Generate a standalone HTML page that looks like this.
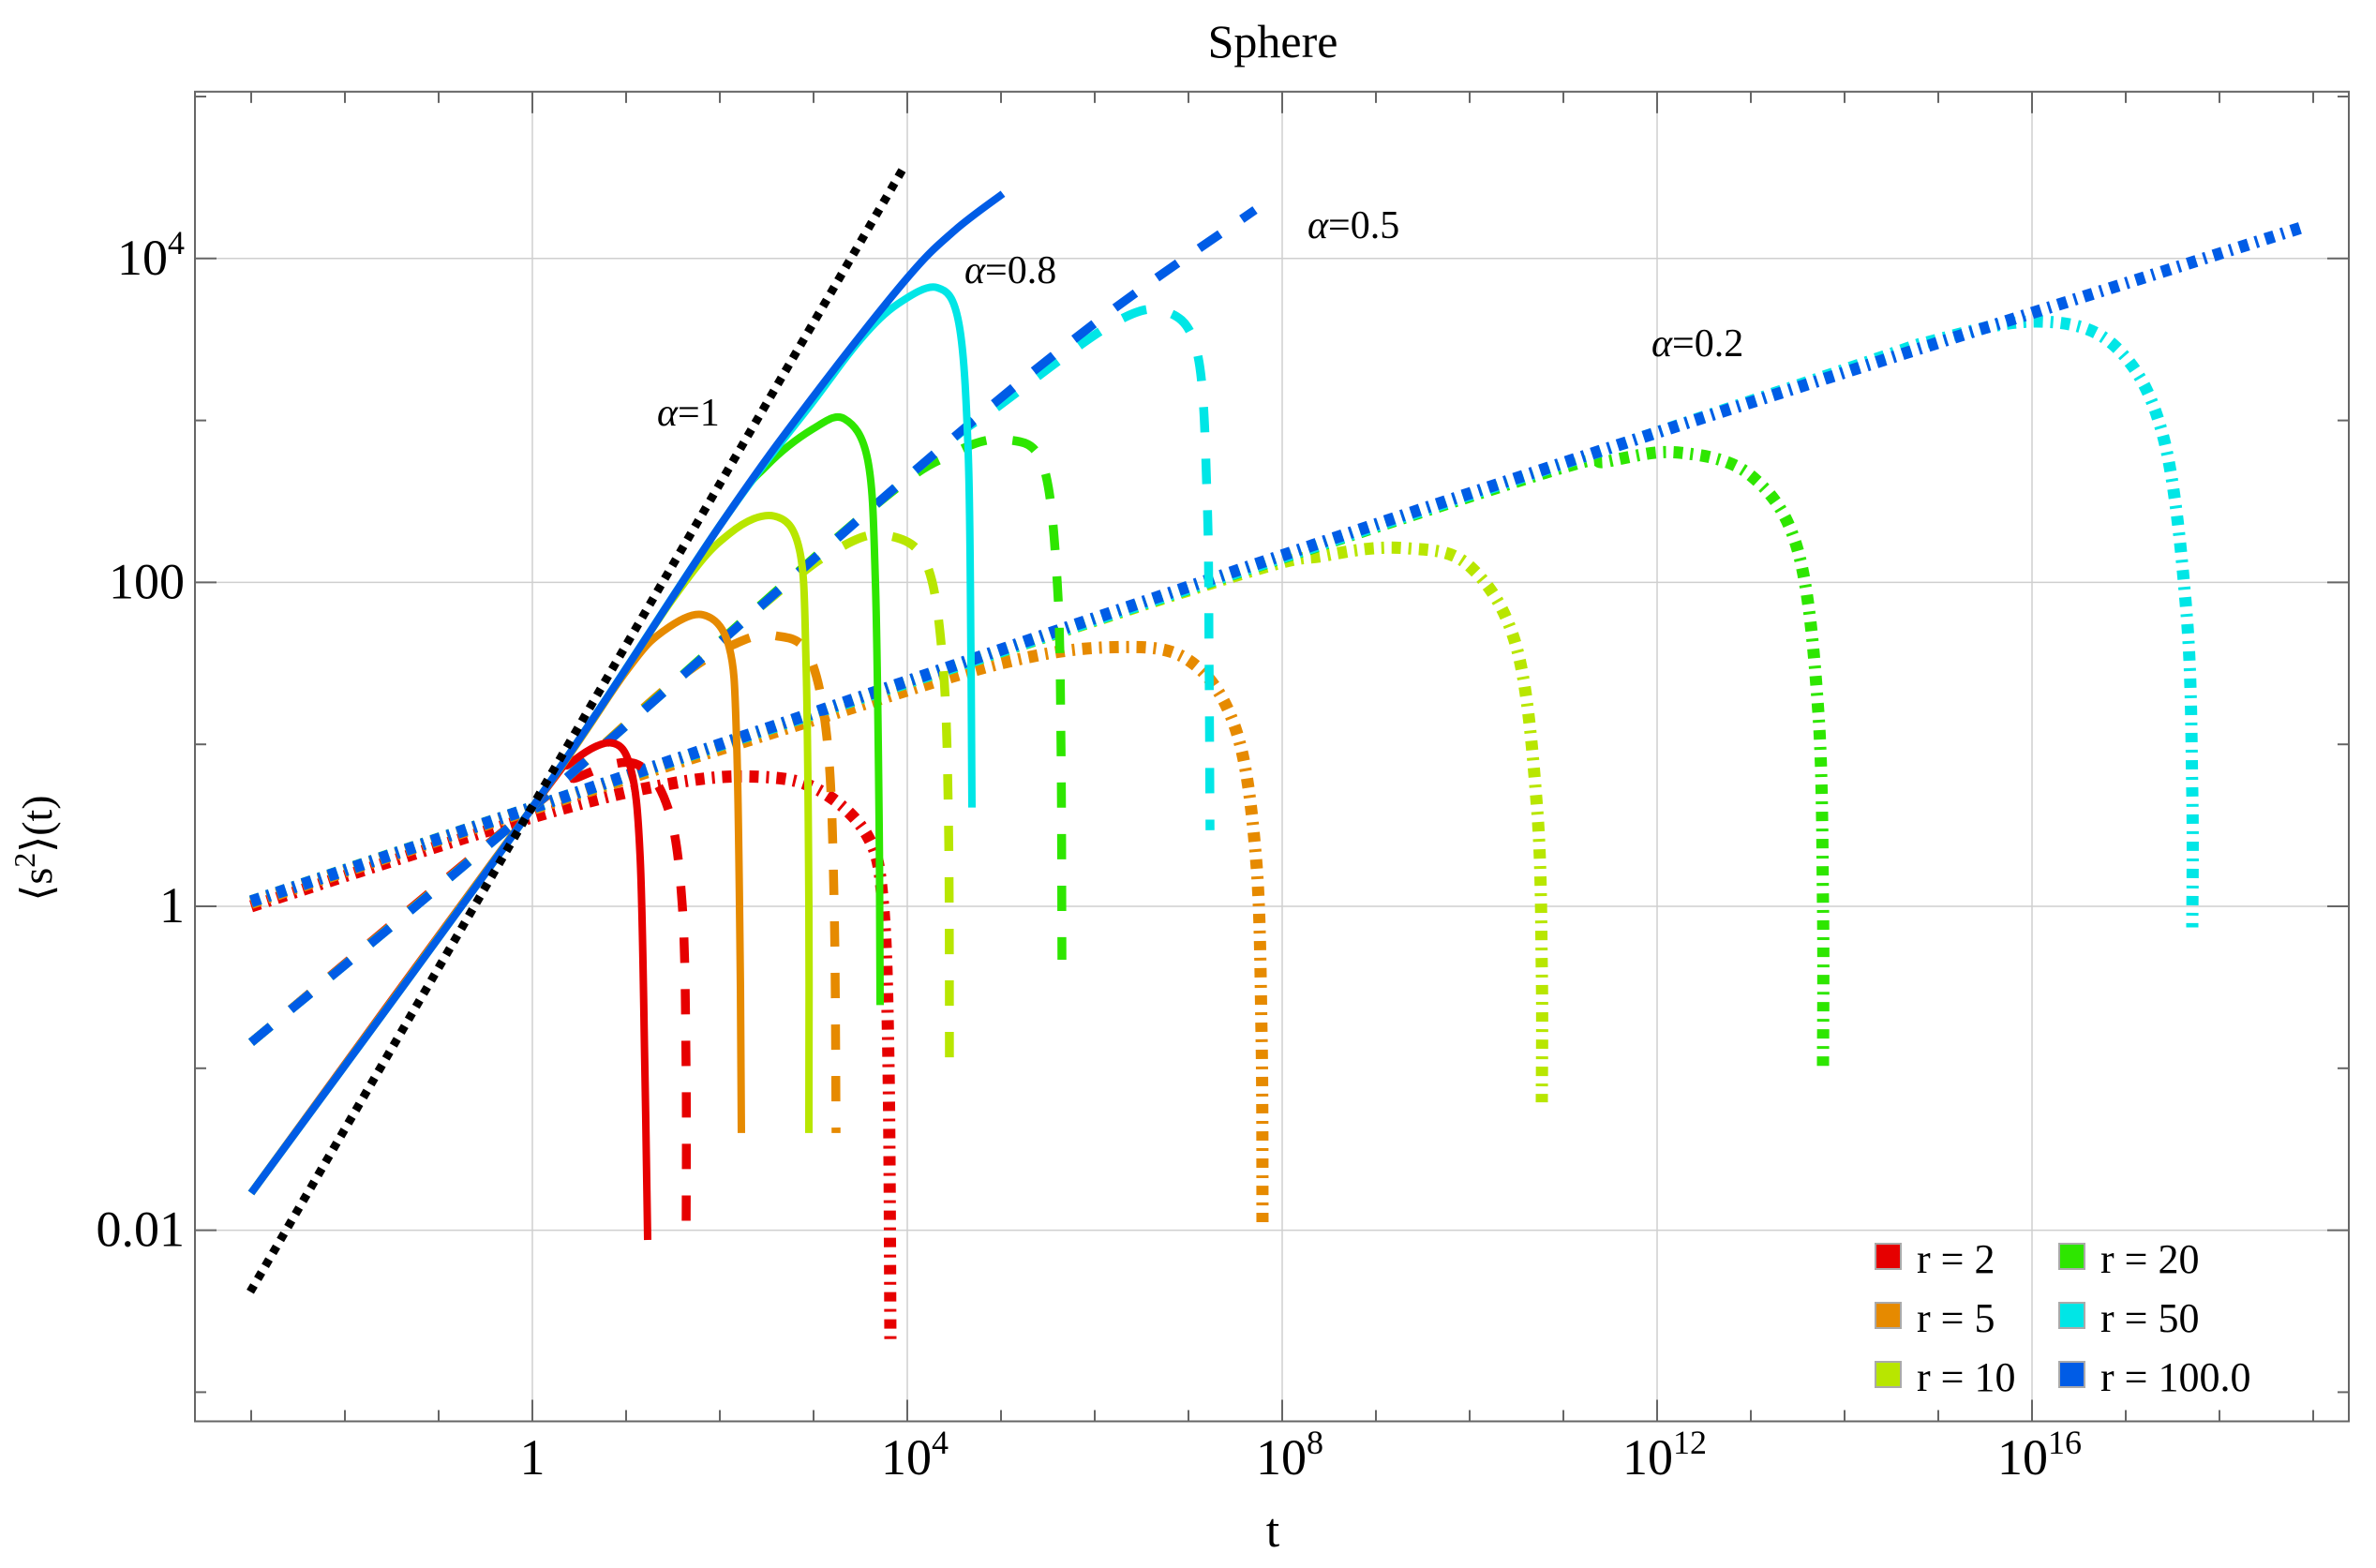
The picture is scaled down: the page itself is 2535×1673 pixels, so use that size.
<!DOCTYPE html>
<html><head><meta charset="utf-8"><style>
html,body{margin:0;padding:0;background:#fff;}
svg{display:block;}
svg text{font-family:"Liberation Serif","DejaVu Serif",serif;}
</style></head><body>
<svg id="chart" width="2535" height="1673" viewBox="0 0 2535 1673" xmlns="http://www.w3.org/2000/svg">
<g id="grid"></g>
<g id="series"></g>
<g id="axes"></g>
<text x="1358" y="61" font-size="50" text-anchor="middle" font-family="Liberation Serif, serif">Sphere</text>
<text x="1358" y="1650" font-size="52" text-anchor="middle" font-family="Liberation Serif, serif">t</text>
<text transform="translate(55,905) rotate(-90)" font-size="46" text-anchor="middle" font-family="Liberation Serif, serif">⟨s<tspan dy="-18" font-size="32">2</tspan><tspan dy="18">⟩(t)</tspan></text>
<text x="701" y="454" font-size="42" font-family="Liberation Serif, serif"><tspan font-style="italic">α</tspan>=1</text>
<text x="1029" y="302" font-size="42" font-family="Liberation Serif, serif"><tspan font-style="italic">α</tspan>=0.8</text>
<text x="1395" y="254" font-size="42" font-family="Liberation Serif, serif"><tspan font-style="italic">α</tspan>=0.5</text>
<text x="1762" y="380" font-size="42" font-family="Liberation Serif, serif"><tspan font-style="italic">α</tspan>=0.2</text>
<g id="legend"></g>
</svg>
<script>
// data: [log10 t, log10 <s^2>] points
const xTickDecades = [0, 4, 8, 12, 16];
const xTickLabels = ["1", "10^4", "10^8", "10^12", "10^16"];
const yTickDecades = [-2, 0, 2, 4];
const yTickLabels = ["0.01", "1", "100", "10^4"];
const legendLabels = ["r = 2", "r = 5", "r = 10", "r = 20", "r = 50", "r = 100.0"];
const seriesColors = ["#e60000", "#e68a00", "#b8e600", "#2ee600", "#00e6e6", "#005ce6"];

const alpha1 = [[-3.01,-2.38],[3.96,4.56]];

const a08_r2 = [[-3,-1.77],[0,0.61],[0.4,0.88],[0.83,1.01],[1.05,0.85],[1.15,0.3],[1.2,-1],[1.23,-2.06]];
const a08_r5 = [[-3,-1.77],[0,0.61],[1,1.45],[1.4,1.7],[1.82,1.80],[2.1,1.6],[2.18,1.0],[2.22,-0.5],[2.23,-1.40]];
const a08_r10 = [[-3,-1.77],[0,0.61],[1.5,1.9],[2.1,2.3],[2.58,2.41],[2.85,2.2],[2.92,1.5],[2.95,0],[2.95,-1.40]];
const a08_r20 = [[-3,-1.77],[0,0.61],[2,2.35],[2.5,2.72],[3.0,2.95],[3.33,3.01],[3.58,2.75],[3.66,2.0],[3.7,0.5],[3.71,-0.61]];
const a08_r50 = [[-3,-1.77],[0,0.61],[2,2.35],[3.0,3.12],[3.5,3.5],[3.9,3.72],[4.32,3.82],[4.55,3.6],[4.65,2.8],[4.68,1.5],[4.69,0.61]];
const a08_r100 = [[-3,-1.77],[0,0.61],[2,2.35],[3,3.15],[4,3.88],[4.5,4.17],[5.02,4.40]];

const a05_r2 = [[-3,-0.84],[0,0.61],[0.5,0.8],[1.1,0.88],[1.45,0.6],[1.6,0],[1.64,-1],[1.64,-2.10]];
const a05_r5 = [[-3,-0.84],[0,0.61],[1.5,1.38],[2.2,1.63],[2.6,1.67],[2.95,1.55],[3.15,1.0],[3.22,0],[3.24,-1.40]];
const a05_r10 = [[-3,-0.84],[0,0.61],[2.5,1.88],[3.3,2.22],[3.78,2.29],[4.2,2.12],[4.38,1.5],[4.44,0.5],[4.45,-1.07]];
const a05_r20 = [[-3,-0.84],[0,0.61],[3.5,2.4],[4.5,2.8],[5.08,2.88],[5.45,2.72],[5.6,2.0],[5.64,1],[5.65,-0.33]];
const a05_r50 = [[-3,-0.84],[0,0.61],[4,2.65],[5,3.1],[6.2,3.6],[6.77,3.67],[7.1,3.4],[7.2,2.5],[7.22,1.5],[7.23,0.47]];
const a05_r100 = [[-3,-0.84],[0,0.61],[4,2.65],[6,3.6],[7.71,4.30]];

const a02_r2 = [[-3,0.0],[0,0.55],[1.5,0.76],[2.42,0.80],[3.05,0.72],[3.57,0.44],[3.74,0.02],[3.8,-1],[3.82,-2.68]];
const a02_r5 = [[-3,0.02],[0,0.6],[3,1.15],[5,1.5],[6.21,1.60],[7.0,1.52],[7.5,1.1],[7.72,0.3],[7.78,-0.8],[7.79,-1.98]];
const a02_r10 = [[-3,0.03],[0,0.61],[7,1.95],[8.5,2.17],[9.35,2.21],[10.0,2.1],[10.5,1.6],[10.72,0.6],[10.77,-0.4],[10.77,-1.21]];
const a02_r20 = [[-3,0.03],[0,0.61],[10,2.53],[11.5,2.75],[12.26,2.80],[13.0,2.66],[13.5,2.2],[13.72,1.2],[13.77,0],[13.77,-1.0]];
const a02_r50 = [[-3,0.03],[0,0.61],[13,3.12],[15,3.5],[16.13,3.61],[16.9,3.45],[17.4,2.9],[17.65,1.8],[17.71,0.7],[17.71,-0.13]];
const a02_r100 = [[-3,0.03],[0,0.61],[10,2.55],[18.87,4.19]];

const X = lt => 568 + 100 * lt;
const Y = ly => 967 - 172.8 * ly;
const NS = "http://www.w3.org/2000/svg";
const XMIN = -3.6, XMAX = 19.38, YMIN = -3.18, YMAX = 5.03;

function mk(tag, attrs, parent) {
  const e = document.createElementNS(NS, tag);
  for (const k in attrs) e.setAttribute(k, attrs[k]);
  parent.appendChild(e);
  return e;
}
function pathD(pts) {
  const p = pts.map(q => [X(q[0]), Y(q[1])]);
  let d = "M" + p[0][0].toFixed(1) + "," + p[0][1].toFixed(1);
  for (let i = 0; i < p.length - 1; i++) {
    const p0 = p[i - 1] || p[i], p1 = p[i], p2 = p[i + 1], p3 = p[i + 2] || p[i + 1];
    const t = 6;
    const c1 = [p1[0] + (p2[0] - p0[0]) / t, p1[1] + (p2[1] - p0[1]) / t];
    const c2 = [p2[0] - (p3[0] - p1[0]) / t, p2[1] - (p3[1] - p1[1]) / t];
    d += " C" + c1.map(v => v.toFixed(1)).join(",") + " " + c2.map(v => v.toFixed(1)).join(",") + " " + p2[0].toFixed(1) + "," + p2[1].toFixed(1);
  }
  return d;
}

const grid = document.getElementById("grid");
const axes = document.getElementById("axes");
const series = document.getElementById("series");
const L = X(XMIN), R = X(XMAX), T = Y(YMAX), B = Y(YMIN);

xTickDecades.forEach(v => {
  const g = mk("line", {x1: X(v), x2: X(v), y1: T, y2: B, stroke: "#cfcfcf", "stroke-width": 1.5}, grid);
  
  
});
yTickDecades.forEach(v => {
  const g = mk("line", {x1: L, x2: R, y1: Y(v), y2: Y(v), stroke: "#cfcfcf", "stroke-width": 1.5}, grid);
  
  
});

const frame = mk("rect", {x: L, y: T, width: R - L, height: B - T, fill: "none", stroke: "#666", "stroke-width": 2}, axes);



for (let d = -3; d <= 19; d++) {
  const major = xTickDecades.includes(d);
  const len = major ? 23 : 12;
  const t1 = mk("line", {x1: X(d), x2: X(d), y1: B, y2: B - len, stroke: "#666", "stroke-width": 2}, axes);
  
  
  const t2 = mk("line", {x1: X(d), x2: X(d), y1: T, y2: T + len, stroke: "#666", "stroke-width": 2}, axes);
  
  
}
for (let d = -3; d <= 5; d++) {
  const major = yTickDecades.includes(d);
  const len = major ? 23 : 12;
  const t1 = mk("line", {x1: L, x2: L + len, y1: Y(d), y2: Y(d), stroke: "#666", "stroke-width": 2}, axes);
  
  
  const t2 = mk("line", {x1: R, x2: R - len, y1: Y(d), y2: Y(d), stroke: "#666", "stroke-width": 2}, axes);
  
  
}
function labelText(s, parent, attrs) {
  const t = mk("text", attrs, parent);
  t.setAttribute("font-family", "Liberation Serif, serif");
  if (s.indexOf("^") >= 0) {
    const [b, e] = s.split("^");
    t.appendChild(document.createTextNode(b));
    const sp = mk("tspan", {dy: -22, "font-size": 36}, t);
    sp.textContent = e;
  } else t.textContent = s;
  return t;
}
xTickDecades.forEach((v, i) => {
  const t = labelText(xTickLabels[i], axes, {x: X(v) + (xTickLabels[i].length > 1 ? 8 : 0), y: 1573, "font-size": 54, "text-anchor": "middle"});
  
  
});
yTickDecades.forEach((v, i) => {
  const t = labelText(yTickLabels[i], axes, {x: 197, y: Y(v) + 17, "font-size": 54, "text-anchor": "end"});
  
  
});

const groups = [
  {name: "alpha-0.2", arr: [a02_r2, a02_r5, a02_r10, a02_r20, a02_r50, a02_r100], w: 13, dash: "10 8 3 8"},
  {name: "alpha-0.5", arr: [a05_r2, a05_r5, a05_r10, a05_r20, a05_r50, a05_r100], w: 9.5, dash: "27 28"},
  {name: "alpha-0.8", arr: [a08_r2, a08_r5, a08_r10, a08_r20, a08_r50, a08_r100], w: 8, dash: "none"}
];
const rNames = ["r2", "r5", "r10", "r20", "r50", "r100"];
groups.forEach(g => {
  g.arr.forEach((pts, i) => {
    const p = mk("path", {d: pathD(pts), fill: "none", stroke: seriesColors[i], "stroke-width": g.w, "stroke-dasharray": g.dash, "stroke-linecap": "butt"}, series);
    
    
  });
});
const blk = mk("path", {d: pathD(alpha1), fill: "none", stroke: "#000", "stroke-width": 9, "stroke-dasharray": "8 8"}, series);



const leg = document.getElementById("legend");
legendLabels.forEach((s, i) => {
  const col = Math.floor(i / 3), row = i % 3;
  const x0 = 2001 + col * 196, y0 = 1327 + row * 63;
  const sw = mk("rect", {x: x0, y: y0, width: 27, height: 27, fill: seriesColors[i], stroke: "#aaa", "stroke-width": 2}, leg);
  
  
  const t = mk("text", {x: x0 + 44, y: y0 + 31, "font-size": 44, "font-family": "Liberation Serif, serif"}, leg);
  t.textContent = s;
  
  
});
</script>
</body></html>
